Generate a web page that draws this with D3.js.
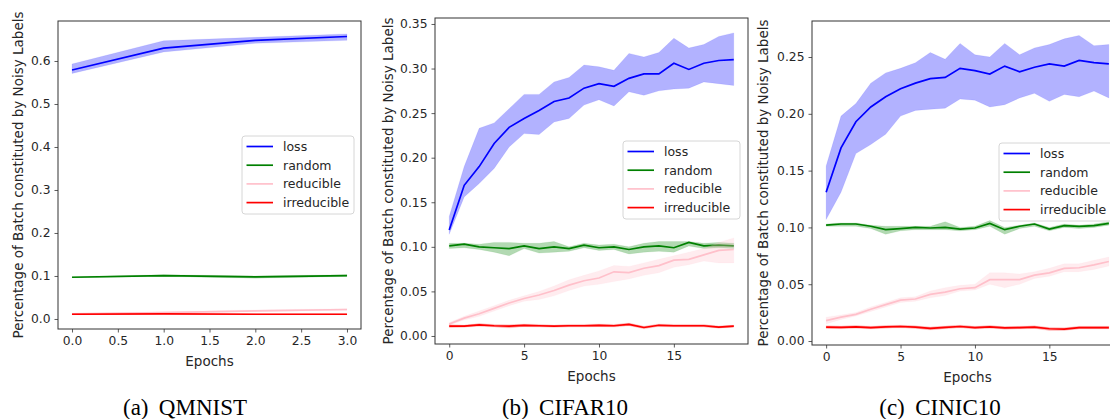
<!DOCTYPE html>
<html>
<head>
<meta charset="utf-8">
<script src="https://cdn.jsdelivr.net/npm/d3@7"></script>
<style>
  body { margin: 0; background: #fff; }
  svg text { font-family: "DejaVu Sans", sans-serif; fill: #262626; }
  .caption { font-family: "Liberation Serif", "Times New Roman", serif; fill: #000; }
</style>
</head>
<body>
<div id="chart"></div>
<script>
'use strict'

// data
var epochsA = [0, 1, 2, 3];
var epochsB = d3.range(0, 20);
var epochsC = d3.range(0, 20);

var methods = ["loss", "random", "reducible", "irreducible"];
var colours = ["blue", "green", "pink", "red"];

// (a) QMNIST
var lossA = [0.579, 0.630, 0.648, 0.657];
var lossA_lo = [0.571, 0.621, 0.641, 0.648];
var lossA_hi = [0.593, 0.647, 0.655, 0.663];
var randomA = [0.097, 0.101, 0.098, 0.101];
var randomA_lo = [0.096, 0.099, 0.095, 0.099];
var randomA_hi = [0.098, 0.103, 0.100, 0.103];
var reducibleA = [0.012, 0.015, 0.019, 0.022];
var reducibleA_lo = [0.011, 0.013, 0.017, 0.020];
var reducibleA_hi = [0.013, 0.017, 0.021, 0.024];
var irreducibleA = [0.011, 0.012, 0.011, 0.011];
var irreducibleA_lo = [0.010, 0.011, 0.010, 0.010];
var irreducibleA_hi = [0.012, 0.013, 0.012, 0.012];

// (b) CIFAR10
var lossB = [0.119, 0.169, 0.190, 0.216, 0.234, 0.244, 0.253, 0.263, 0.267, 0.278, 0.283, 0.280, 0.289, 0.294, 0.294, 0.306, 0.299, 0.306, 0.309, 0.310];
var lossB_lo = [0.114, 0.156, 0.171, 0.188, 0.212, 0.227, 0.226, 0.240, 0.244, 0.259, 0.265, 0.258, 0.274, 0.270, 0.275, 0.277, 0.278, 0.285, 0.283, 0.281];
var lossB_hi = [0.134, 0.190, 0.233, 0.239, 0.255, 0.271, 0.271, 0.285, 0.290, 0.304, 0.302, 0.298, 0.317, 0.313, 0.318, 0.334, 0.323, 0.327, 0.336, 0.340];
var randomB = [0.101, 0.103, 0.100, 0.099, 0.098, 0.101, 0.098, 0.100, 0.098, 0.102, 0.099, 0.100, 0.097, 0.100, 0.101, 0.099, 0.105, 0.101, 0.102, 0.101];
var randomB_lo = [0.098, 0.099, 0.097, 0.094, 0.090, 0.098, 0.093, 0.094, 0.095, 0.099, 0.096, 0.097, 0.092, 0.094, 0.095, 0.094, 0.101, 0.098, 0.099, 0.098];
var randomB_hi = [0.104, 0.104, 0.103, 0.105, 0.105, 0.104, 0.104, 0.106, 0.100, 0.104, 0.102, 0.103, 0.100, 0.104, 0.106, 0.106, 0.106, 0.104, 0.105, 0.104];
var reducibleB = [0.0135, 0.020, 0.025, 0.031, 0.037, 0.042, 0.046, 0.051, 0.057, 0.062, 0.065, 0.072, 0.071, 0.076, 0.079, 0.085, 0.086, 0.091, 0.096, 0.097];
var reducibleB_lo = [0.012, 0.018, 0.022, 0.028, 0.034, 0.039, 0.041, 0.045, 0.051, 0.056, 0.058, 0.061, 0.064, 0.068, 0.071, 0.077, 0.080, 0.084, 0.082, 0.082];
var reducibleB_hi = [0.015, 0.022, 0.028, 0.034, 0.040, 0.045, 0.050, 0.056, 0.063, 0.068, 0.073, 0.079, 0.078, 0.082, 0.086, 0.090, 0.094, 0.098, 0.105, 0.110];
var irreducibleB = [0.011, 0.011, 0.0125, 0.0115, 0.011, 0.012, 0.0115, 0.011, 0.0115, 0.0115, 0.012, 0.0115, 0.013, 0.0095, 0.012, 0.0115, 0.0115, 0.0115, 0.010, 0.011];
var irreducibleB_lo = [0.0095, 0.0098, 0.011, 0.010, 0.009, 0.0105, 0.010, 0.0098, 0.010, 0.010, 0.0105, 0.010, 0.0115, 0.008, 0.0105, 0.010, 0.010, 0.010, 0.0088, 0.0098];
var irreducibleB_hi = [0.0125, 0.0122, 0.014, 0.013, 0.0125, 0.0135, 0.013, 0.0122, 0.013, 0.013, 0.0135, 0.013, 0.0145, 0.011, 0.0135, 0.013, 0.013, 0.013, 0.0112, 0.0122];

// (c) CINIC10
var lossC = [0.131, 0.170, 0.193, 0.206, 0.215, 0.222, 0.227, 0.231, 0.232, 0.240, 0.238, 0.235, 0.242, 0.237, 0.241, 0.244, 0.242, 0.247, 0.245, 0.244];
var lossC_lo = [0.107, 0.131, 0.165, 0.173, 0.182, 0.198, 0.203, 0.204, 0.205, 0.213, 0.212, 0.206, 0.208, 0.214, 0.218, 0.211, 0.217, 0.215, 0.220, 0.214];
var lossC_hi = [0.154, 0.198, 0.209, 0.227, 0.236, 0.240, 0.245, 0.254, 0.248, 0.262, 0.252, 0.250, 0.262, 0.252, 0.258, 0.261, 0.266, 0.269, 0.260, 0.261];
var randomC = [0.102, 0.103, 0.103, 0.101, 0.098, 0.099, 0.100, 0.0995, 0.100, 0.0985, 0.0995, 0.1035, 0.098, 0.101, 0.103, 0.0985, 0.1015, 0.101, 0.1015, 0.1035];
var randomC_lo = [0.101, 0.101, 0.101, 0.099, 0.094, 0.097, 0.098, 0.098, 0.098, 0.097, 0.098, 0.101, 0.094, 0.099, 0.101, 0.097, 0.100, 0.099, 0.100, 0.102];
var randomC_hi = [0.103, 0.104, 0.104, 0.102, 0.101, 0.101, 0.101, 0.101, 0.105, 0.100, 0.101, 0.106, 0.100, 0.102, 0.104, 0.100, 0.103, 0.102, 0.103, 0.105];
var reducibleC = [0.018, 0.021, 0.0235, 0.028, 0.032, 0.036, 0.037, 0.041, 0.043, 0.046, 0.047, 0.054, 0.054, 0.054, 0.058, 0.060, 0.064, 0.0645, 0.067, 0.070];
var reducibleC_lo = [0.015, 0.019, 0.022, 0.026, 0.030, 0.034, 0.035, 0.038, 0.040, 0.044, 0.045, 0.050, 0.047, 0.050, 0.055, 0.057, 0.061, 0.061, 0.063, 0.066];
var reducibleC_hi = [0.021, 0.023, 0.025, 0.030, 0.034, 0.038, 0.039, 0.044, 0.047, 0.049, 0.050, 0.060, 0.060, 0.059, 0.061, 0.064, 0.068, 0.068, 0.071, 0.074];
var irreducibleC = [0.0123, 0.012, 0.0125, 0.0118, 0.0125, 0.0128, 0.0122, 0.0112, 0.012, 0.0128, 0.0118, 0.0125, 0.0115, 0.0118, 0.0123, 0.0108, 0.0105, 0.0118, 0.0118, 0.0118];
var irreducibleC_lo = [0.0111, 0.0108, 0.0113, 0.0106, 0.0113, 0.0116, 0.011, 0.0098, 0.0108, 0.0116, 0.0106, 0.0113, 0.0103, 0.0106, 0.0111, 0.0092, 0.0093, 0.0106, 0.0106, 0.0106];
var irreducibleC_hi = [0.0135, 0.0132, 0.0137, 0.013, 0.0137, 0.014, 0.0134, 0.0124, 0.0132, 0.014, 0.013, 0.0137, 0.0127, 0.013, 0.0135, 0.012, 0.0117, 0.013, 0.013, 0.013];

// tick labels
var xTicksA = [0, 0.5, 1, 1.5, 2, 2.5, 3];
var xTicksBC = [0, 5, 10, 15];
var yTicksA = [0, 0.1, 0.2, 0.3, 0.4, 0.5, 0.6];
var yTicksB = [0, 0.05, 0.1, 0.15, 0.2, 0.25, 0.3, 0.35];
var yTicksC = [0, 0.05, 0.1, 0.15, 0.2, 0.25];

var panels = [
  { caption: "(a) \u2009QMNIST", epochs: epochsA,
    series: [[lossA, lossA_lo, lossA_hi], [randomA, randomA_lo, randomA_hi],
             [reducibleA, reducibleA_lo, reducibleA_hi], [irreducibleA, irreducibleA_lo, irreducibleA_hi]],
    xTicks: xTicksA, xFmt: d3.format(".1f"), yTicks: yTicksA, yFmt: d3.format(".1f"),
    xDomain: [-0.153, 3.153], yDomain: [-0.0233, 0.693],
    box: { left: 58, right: 361, top: 21, bottom: 329 },
    yLabelX: 18, captionX: 185, legend: { x: 242, y: 136, w: 112 } },
  { caption: "(b) \u2009CIFAR10", epochs: epochsB,
    series: [[lossB, lossB_lo, lossB_hi], [randomB, randomB_lo, randomB_hi],
             [reducibleB, reducibleB_lo, reducibleB_hi], [irreducibleB, irreducibleB_lo, irreducibleB_hi]],
    xTicks: xTicksBC, xFmt: d3.format("d"), yTicks: yTicksB, yFmt: d3.format(".2f"),
    xDomain: [-0.95, 19.95], yDomain: [-0.009, 0.3567],
    box: { left: 435, right: 748, top: 18, bottom: 344 },
    yLabelX: 388, captionX: 565, legend: { x: 623, y: 141, w: 117 } },
  { caption: "(c) \u2009CINIC10", epochs: epochsC,
    series: [[lossC, lossC_lo, lossC_hi], [randomC, randomC_lo, randomC_hi],
             [reducibleC, reducibleC_lo, reducibleC_hi], [irreducibleC, irreducibleC_lo, irreducibleC_hi]],
    xTicks: xTicksBC, xFmt: d3.format("d"), yTicks: yTicksC, yFmt: d3.format(".2f"),
    xDomain: [-0.95, 19.95], yDomain: [-0.0035, 0.2817],
    box: { left: 812, right: 1123, top: 21, bottom: 345 },
    yLabelX: 763, captionX: 940, legend: { x: 999, y: 143, w: 117 } }
];

var svg = d3.select('#chart').append('svg')
  .attr('width', 1110)
  .attr('height', 419);

panels.forEach(function(p, pi) {
  var b = p.box;
  var x = d3.scaleLinear().domain(p.xDomain).range([b.left, b.right]);
  var y = d3.scaleLinear().domain(p.yDomain).range([b.bottom, b.top]);

  var clipId = 'clip' + pi;
  svg.append('clipPath').attr('id', clipId)
    .append('rect')
    .attr('x', b.left).attr('y', b.top)
    .attr('width', b.right - b.left).attr('height', b.bottom - b.top);

  var g = svg.append('g');
  var plot = g.append('g').attr('clip-path', 'url(#' + clipId + ')');

  p.series.forEach(function(s, si) {
    var rows = p.epochs.map(function(e, i) {
      return { e: e, m: s[0][i], lo: s[1][i], hi: s[2][i] };
    });
    var area = d3.area()
      .x(function(d) { return x(d.e); })
      .y0(function(d) { return y(d.lo); })
      .y1(function(d) { return y(d.hi); });
    var line = d3.line()
      .x(function(d) { return x(d.e); })
      .y(function(d) { return y(d.m); });
    plot.append('path').datum(rows)
      .attr('d', line)
      .attr('fill', 'none')
      .attr('stroke', colours[si])
      .attr('stroke-width', 1.7);
    plot.append('path').datum(rows)
      .attr('d', area)
      .attr('fill', colours[si])
      .attr('fill-opacity', 0.3)
      .attr('stroke', colours[si])
      .attr('stroke-opacity', 0.15)
      .attr('stroke-width', 0.5);
  });

  // axes
  var xAxis = d3.axisBottom(x).tickValues(p.xTicks).tickFormat(p.xFmt).tickSize(3.5).tickPadding(4);
  var yAxis = d3.axisLeft(y).tickValues(p.yTicks).tickFormat(p.yFmt).tickSize(3.5).tickPadding(4);
  var xg = g.append('g').attr('transform', 'translate(0,' + b.bottom + ')').call(xAxis);
  var yg = g.append('g').attr('transform', 'translate(' + b.left + ',0)').call(yAxis);
  [xg, yg].forEach(function(a) {
    a.select('.domain').remove();
    a.selectAll('line').attr('stroke', '#333').attr('stroke-width', 0.8);
    a.selectAll('text').style('font-family', '"DejaVu Sans", sans-serif')
      .style('font-size', '12.3px').attr('fill', '#262626');
  });

  // frame
  g.append('rect')
    .attr('x', b.left).attr('y', b.top)
    .attr('width', b.right - b.left).attr('height', b.bottom - b.top)
    .attr('fill', 'none').attr('stroke', '#333').attr('stroke-width', 1);

  // axis titles
  g.append('text')
    .attr('x', (b.left + b.right) / 2)
    .attr('y', b.bottom + 37)
    .attr('text-anchor', 'middle')
    .style('font-size', '13.5px')
    .text('Epochs');
  g.append('text')
    .attr('transform', 'translate(' + p.yLabelX + ',' + ((b.top + b.bottom) / 2) + ') rotate(-90)')
    .attr('text-anchor', 'middle')
    .attr('dy', '0.35em')
    .style('font-size', '13.5px')
    .text('Percentage of Batch constituted by Noisy Labels');

  // legend
  var L = p.legend;
  var lg = g.append('g');
  lg.append('rect')
    .attr('x', L.x).attr('y', L.y).attr('width', L.w).attr('height', 78)
    .attr('rx', 3)
    .attr('fill', '#fff').attr('fill-opacity', 0.8)
    .attr('stroke', '#d6d6d6').attr('stroke-width', 1);
  methods.forEach(function(m, i) {
    var yy = L.y + 10.5 + i * 18.7;
    lg.append('line')
      .attr('x1', L.x + 4.5).attr('x2', L.x + 31)
      .attr('y1', yy).attr('y2', yy)
      .attr('stroke', colours[i]).attr('stroke-width', 1.7);
    lg.append('text')
      .attr('x', L.x + 41).attr('y', yy)
      .attr('dy', '0.35em')
      .style('font-size', '12.5px')
      .text(m);
  });

  // caption
  svg.append('text')
    .attr('class', 'caption')
    .attr('x', p.captionX)
    .attr('y', 415)
    .attr('text-anchor', 'middle')
    .style('font-size', '23px')
    .text(p.caption);
});
</script>
</body>
</html>
